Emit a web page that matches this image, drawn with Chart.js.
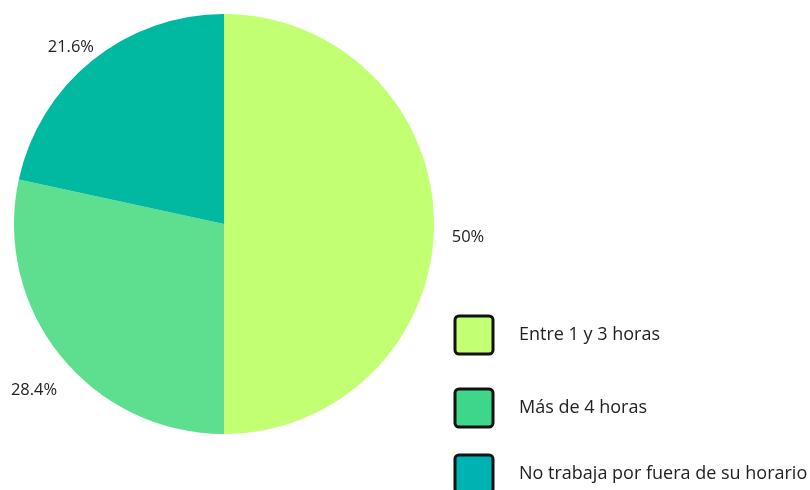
<!DOCTYPE html>
<html>
<head>
<meta charset="utf-8">
<script src="https://cdn.jsdelivr.net/npm/chart.js@4"></script>
<style>
  html, body { margin: 0; padding: 0; background: #fff; }
  #wrap { width: 810px; height: 490px; }
</style>
</head>
<body>
<div id="wrap"><canvas id="chart" width="810" height="490"></canvas></div>
<script>
const labels = ['Entre 1 y 3 horas', 'Más de 4 horas', 'No trabaja por fuera de su horario'];
const values = [50, 28.4, 21.6];
const pieColors = ['#c2ff72', '#5ddf8f', '#00b9a0'];
const legendColors = ['#c2ff72', '#3dd68a', '#00b3b3'];

// percentage labels outside each slice
const outsideLabels = {
  id: 'outsideLabels',
  afterDatasetsDraw(chart) {
    const ctx = chart.ctx;
    const meta = chart.getDatasetMeta(0);
    ctx.save();
    ctx.font = '16.5px "Open Sans", sans-serif';
    ctx.fillStyle = '#222';
    ctx.textAlign = 'center';
    ctx.textBaseline = 'middle';
    meta.data.forEach((arc, i) => {
      const mid = (arc.startAngle + arc.endAngle) / 2;
      const r = arc.outerRadius + 34;
      const x = arc.x + Math.cos(mid) * r;
      const y = arc.y + Math.sin(mid) * r + 13;
      ctx.fillText(values[i] + '%', x, y);
    });
    ctx.restore();
  }
};

// boxed legend at the bottom right
const boxLegend = {
  id: 'boxLegend',
  afterDraw(chart) {
    const ctx = chart.ctx;
    const rows = [335, 408, 474];
    ctx.save();
    ctx.font = '18px "Open Sans", sans-serif';
    ctx.textBaseline = 'middle';
    labels.forEach((lab, i) => {
      const y = rows[i];
      ctx.beginPath();
      ctx.roundRect(455, y - 19, 38, 38, 4);
      ctx.fillStyle = legendColors[i];
      ctx.fill();
      ctx.lineWidth = 3;
      ctx.strokeStyle = '#111';
      ctx.stroke();
      const w = ctx.measureText(lab).width;
      const x = Math.min(519, chart.width - w - 1);
      ctx.fillStyle = '#222';
      ctx.fillText(lab, x, y);
    });
    ctx.restore();
  }
};

new Chart(document.getElementById('chart'), {
  type: 'pie',
  data: {
    labels: labels,
    datasets: [{
      data: values,
      backgroundColor: pieColors,
      borderWidth: 0
    }]
  },
  options: {
    responsive: false,
    animation: false,
    layout: { padding: { left: 14, top: 14, right: 376, bottom: 56 } },
    plugins: {
      legend: { display: false },
      tooltip: { enabled: false }
    }
  },
  plugins: [outsideLabels, boxLegend]
});
</script>
</body>
</html>
